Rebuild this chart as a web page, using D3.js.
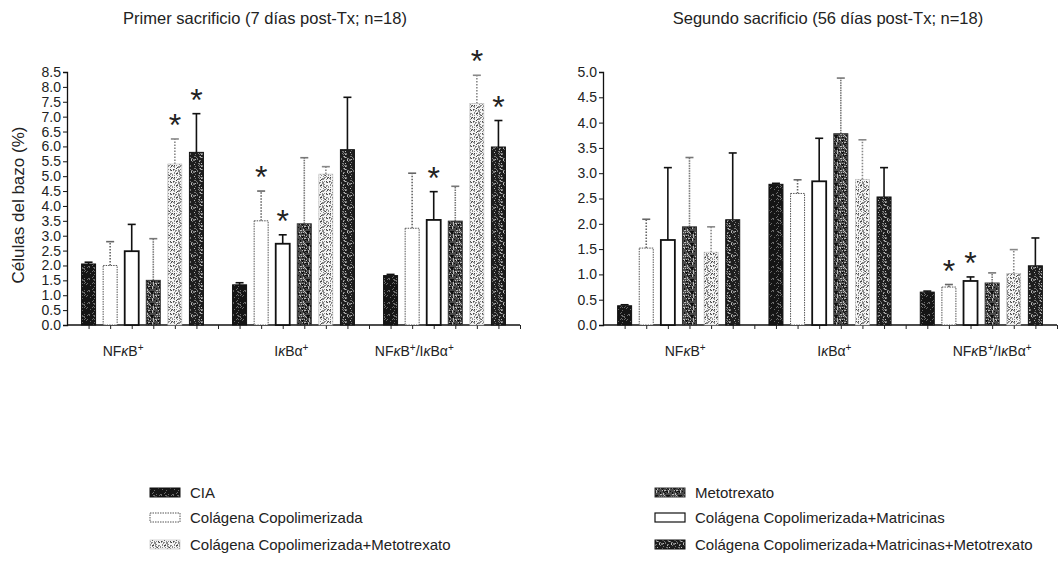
<!DOCTYPE html>
<html>
<head>
<meta charset="utf-8">
<script src="https://cdn.jsdelivr.net/npm/d3@7"></script>
<style>
  body { margin: 0; background: #fff; }
  text { font-family: "Liberation Sans", Arial, sans-serif; fill: #222; }
</style>
</head>
<body>
<svg id="chart" width="1062" height="582"></svg>
<script>
// ---- data ---------------------------------------------------------------
const groupLabels = ["NFκB+", "IκBα+", "NFκB+/IκBα+"];

const seriesNames = [
  "CIA",
  "Colágena Copolimerizada",
  "Colágena Copolimerizada+Matricinas",
  "Metotrexato",
  "Colágena Copolimerizada+Metotrexato",
  "Colágena Copolimerizada+Matricinas+Metotrexato"
];

// First sacrifice (7 days post-Tx): mean per group, then SD per group
const firstMeans = [
  [2.05, 1.35, 1.66],
  [2.00, 3.50, 3.25],
  [2.48, 2.73, 3.53],
  [1.50, 3.40, 3.49],
  [5.41, 5.07, 7.44],
  [5.80, 5.89, 5.98]
];
const firstSD = [
  [0.06, 0.07, 0.04],
  [0.80, 1.00, 1.85],
  [0.90, 0.30, 0.95],
  [1.40, 2.22, 1.17],
  [0.84, 0.25, 0.95],
  [1.30, 1.76, 0.89]
];
// significance marks: 1 = asterisk above the bar
const firstSig = [
  [0, 0, 0],
  [0, 1, 0],
  [0, 1, 1],
  [0, 0, 0],
  [1, 0, 1],
  [1, 0, 1]
];

// Second sacrifice (56 days post-Tx)
const secondMeans = [
  [0.38, 2.78, 0.65],
  [1.52, 2.60, 0.75],
  [1.68, 2.84, 0.87],
  [1.94, 3.78, 0.83],
  [1.44, 2.88, 1.02],
  [2.08, 2.53, 1.17]
];
const secondSD = [
  [0.02, 0.02, 0.02],
  [0.57, 0.27, 0.05],
  [1.43, 0.85, 0.08],
  [1.37, 1.10, 0.20],
  [0.50, 0.78, 0.47],
  [1.32, 0.58, 0.55]
];
const secondSig = [
  [0, 0, 0],
  [0, 0, 1],
  [0, 0, 1],
  [0, 0, 0],
  [0, 0, 0],
  [0, 0, 0]
];

const firstTicks = d3.range(0, 8.51, 0.5);
const secondTicks = d3.range(0, 5.01, 0.5);

// legend layout: [column, row] for each series
const legendOrder = [[0, 0], [0, 1], [1, 1], [1, 0], [0, 2], [1, 2]];

// ---- fills --------------------------------------------------------------
const svg = d3.select("#chart");
const defs = svg.append("defs");

// deterministic speckle tile
function hash(i, seed) {
  let h = (i * 374761393 + seed * 668265263) | 0;
  h = (h ^ (h >>> 13)) * 1274126177;
  h = h ^ (h >>> 16);
  return ((h >>> 0) % 1000) / 1000;
}
function speckle(id, base, specks, seed) {
  const size = 12;
  const p = defs.append("pattern").attr("id", id)
    .attr("patternUnits", "userSpaceOnUse").attr("width", size).attr("height", size);
  p.append("rect").attr("width", size).attr("height", size).attr("fill", base);
  specks.forEach(([color, density], k) => {
    for (let i = 0; i < size * size; i++) {
      if (hash(i, seed + k * 31) < density) {
        p.append("rect").attr("x", i % size).attr("y", Math.floor(i / size))
          .attr("width", 1).attr("height", 1).attr("fill", color);
      }
    }
  });
}
speckle("fCIA", "#151515", [["#6a6a6a", 0.12]], 3);
speckle("fMet", "#4a4a4a", [["#111", 0.3], ["#bbb", 0.18]], 7);
speckle("fCCMet", "#f4f4f4", [["#8a8a8a", 0.35], ["#444", 0.08]], 11);
speckle("fCCMM", "#1e1e1e", [["#777", 0.25], ["#bbb", 0.06]], 17);

const seriesStyle = [
  { fill: "url(#fCIA)",  stroke: "#111", sw: 1,   dash: null,  err: "#111", errDash: null },
  { fill: "#fff",        stroke: "#555", sw: 1,   dash: "1.5,1", err: "#666", errDash: "1.5,1.5" },
  { fill: "#fff",        stroke: "#111", sw: 1.8, dash: null,  err: "#111", errDash: null },
  { fill: "url(#fMet)",  stroke: "#333", sw: 1,   dash: null,  err: "#777", errDash: "1.5,1" },
  { fill: "url(#fCCMet)",stroke: "#bbb", sw: 0.6, dash: null,  err: "#888", errDash: "1.5,1.5" },
  { fill: "url(#fCCMM)", stroke: "#111", sw: 1,   dash: null,  err: "#111", errDash: null }
];

// ---- one panel ------------------------------------------------------------
function groupLabel(sel, label) {
  // italic kappa, superscript plus; plain runs grouped together
  const parts = label.split(/(κ|\+)/).filter(p => p.length);
  parts.forEach(p => {
    if (p === "κ") sel.append("tspan").attr("font-style", "italic").text("κ");
    else if (p === "+") sel.append("tspan").attr("font-size", 10)
      .attr("baseline-shift", "super").text("+");
    else sel.append("tspan").text(p);
  });
}

function panel(cfg) {
  const g = svg.append("g");
  const y = d3.scaleLinear().domain([0, cfg.max]).range([cfg.y0, cfg.y1]);
  const x = d3.scaleLinear().domain([-1, 20]).range([cfg.x0, cfg.x1]);
  const bw = 14;

  // y axis
  const yAxis = d3.axisLeft(y).tickValues(cfg.ticks).tickFormat(d3.format(".1f"))
    .tickSize(4).tickPadding(2);
  const ya = g.append("g").attr("transform", `translate(${cfg.x0},0)`).call(yAxis);
  ya.select(".domain").attr("stroke", "#111").attr("stroke-width", 1.3);
  ya.selectAll(".tick line").attr("stroke", "#111");
  ya.selectAll(".tick text").attr("font-size", 14).attr("fill", "#222")
    .attr("font-family", "'Liberation Sans', Arial, sans-serif");

  // x axis with a tick at every bar slot
  const xAxis = d3.axisBottom(x).tickValues(d3.range(0, 21)).tickFormat("").tickSize(4);
  const xa = g.append("g").attr("transform", `translate(0,${cfg.y0})`).call(xAxis);
  xa.select(".domain").attr("stroke", "#111").attr("stroke-width", 1.3).attr("d", `M${cfg.x0},0H${cfg.x1}`);
  xa.selectAll(".tick line").attr("stroke", "#222");

  // bars
  const bars = [];
  cfg.means.forEach((row, s) => row.forEach((v, gi) => {
    bars.push({ s, gi, v, sd: cfg.sd[s][gi], sig: cfg.sig[s][gi], slot: gi * 7 + s });
  }));

  const bg = g.append("g");
  // error bars (upper only)
  bg.selectAll("line.err").data(bars).join("line")
    .attr("x1", d => x(d.slot)).attr("x2", d => x(d.slot))
    .attr("y1", d => y(d.v)).attr("y2", d => y(d.v + d.sd))
    .attr("stroke", d => seriesStyle[d.s].err).attr("stroke-width", 1.6)
    .attr("stroke-dasharray", d => seriesStyle[d.s].errDash);
  bg.selectAll("line.cap").data(bars).join("line")
    .attr("x1", d => x(d.slot) - 4).attr("x2", d => x(d.slot) + 4)
    .attr("y1", d => y(d.v + d.sd)).attr("y2", d => y(d.v + d.sd))
    .attr("stroke", d => seriesStyle[d.s].err).attr("stroke-width", 1.6);

  bg.selectAll("rect.bar").data(bars).join("rect")
    .attr("x", d => x(d.slot) - bw / 2).attr("width", bw)
    .attr("y", d => y(d.v)).attr("height", d => y(0) - y(d.v))
    .attr("fill", d => seriesStyle[d.s].fill)
    .attr("stroke", d => seriesStyle[d.s].stroke)
    .attr("stroke-width", d => seriesStyle[d.s].sw)
    .attr("stroke-dasharray", d => seriesStyle[d.s].dash);

  // asterisks
  bg.selectAll("text.sig").data(bars.filter(d => d.sig)).join("text")
    .attr("x", d => x(d.slot)).attr("y", d => y(d.v + d.sd) - 3)
    .attr("text-anchor", "middle").attr("font-size", 32)
    .attr("font-family", "'DejaVu Sans', sans-serif").attr("fill", "#3a3a3a")
    .text("*");

  // group labels
  groupLabels.forEach((lab, i) => {
    const t = g.append("text").attr("x", x(cfg.labelSlots[i])).attr("y", cfg.y0 + 31)
      .attr("text-anchor", "middle").attr("font-size", 14).attr("fill", "#222");
    groupLabel(t, lab);
  });

  // title
  g.append("text").attr("x", cfg.titleX).attr("y", 24).attr("text-anchor", "middle")
    .attr("font-size", 16.5).attr("fill", "#222").text(cfg.title);
}

panel({
  title: "Primer sacrificio (7 días post-Tx; n=18)", titleX: 265,
  means: firstMeans, sd: firstSD, sig: firstSig, ticks: firstTicks, max: 8.5,
  x0: 67, x1: 520, y0: 325, y1: 72, labelSlots: [1.6, 9.4, 15.1]
});
panel({
  title: "Segundo sacrificio (56 días post-Tx; n=18)", titleX: 828,
  means: secondMeans, sd: secondSD, sig: secondSig, ticks: secondTicks, max: 5,
  x0: 603, x1: 1057, y0: 325, y1: 72, labelSlots: [2.8, 9.7, 17.0]
});

// y axis title
svg.append("text").attr("transform", "translate(24,205) rotate(-90)")
  .attr("text-anchor", "middle").attr("font-size", 17).attr("fill", "#222")
  .text("Células del bazo (%)");

// ---- legend ---------------------------------------------------------------
const legendCols = [150, 655];
const legendRows = [493, 518, 545];
const lg = svg.append("g");
seriesNames.forEach((name, s) => {
  const [c, r] = legendOrder[s];
  const lx = legendCols[c], ly = legendRows[r];
  lg.append("rect").attr("x", lx).attr("y", ly - 5).attr("width", 30).attr("height", 9)
    .attr("fill", seriesStyle[s].fill).attr("stroke", seriesStyle[s].stroke)
    .attr("stroke-width", Math.min(seriesStyle[s].sw, 1.2))
    .attr("stroke-dasharray", seriesStyle[s].dash);
  lg.append("text").attr("x", lx + 40).attr("y", ly + 5).attr("font-size", 15)
    .attr("fill", "#222").text(name);
});
</script>
</body>
</html>
